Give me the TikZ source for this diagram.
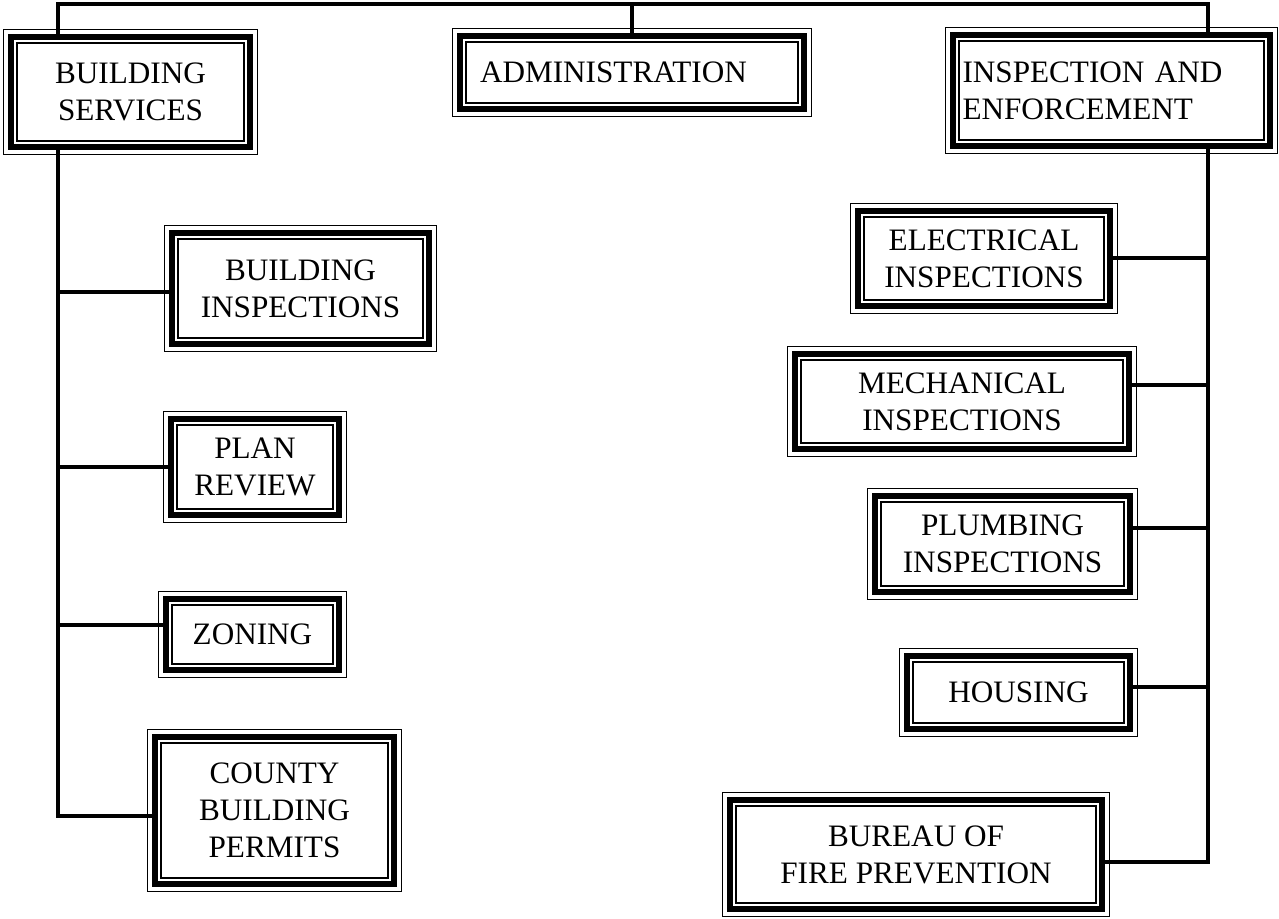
\documentclass[tikz,border=0pt]{standalone}
\usepackage{fontspec}
\setmainfont{Liberation Serif}
\tikzset{
  tribox/.style={draw, fill=white, line width=2.8pt, align=center, inner sep=2pt,
    preaction={draw=black, line width=8.2pt},
    preaction={draw=white, line width=6.6pt},
    path picture={\draw[line width=0.8pt]
      ([shift={(2.9pt,2.9pt)}]path picture bounding box.south west) rectangle
      ([shift={(-2.9pt,-2.9pt)}]path picture bounding box.north east);}},
  boxsize/.style 2 args={minimum width=#1*0.5pt-8pt, minimum height=#2*0.5pt-8pt},
  link/.style={line width=1.8pt}
}

\begin{document}
\begin{tikzpicture}[x=0.5pt,y=-0.5pt,font=\fontsize{15.6}{18.5}\selectfont]
  \useasboundingbox (0,0) rectangle (1279,918);
  % top row
  \node[tribox, boxsize={255}{126}] (bserv) at (130.5,92) {BUILDING\\SERVICES};
  \node[tribox, boxsize={360}{89}, align=left, text width=152pt, inner xsep=10pt] (admin) at (632,72.5) {ADMINISTRATION};
  \node[tribox, boxsize={333}{127}, align=left, text width=149pt, inner xsep=4.5pt] (insp) at (1111.5,90.5) {INSPECTION AND\\ENFORCEMENT};
  % building services side
  \node[tribox, boxsize={273}{127}] (binsp) at (300.5,288.5) {BUILDING\\INSPECTIONS};
  \node[tribox, boxsize={184}{112}] (plan) at (255,467) {PLAN\\REVIEW};
  \node[tribox, boxsize={189}{87}] (zone) at (252.5,634.5) {ZONING};
  \node[tribox, boxsize={255}{163}] (county) at (274.5,810.5) {COUNTY\\BUILDING\\PERMITS};
  % inspection side
  \node[tribox, boxsize={268}{111}] (elec) at (984,258.5) {ELECTRICAL\\INSPECTIONS};
  \node[tribox, boxsize={350}{111}] (mech) at (962,401.5) {MECHANICAL\\INSPECTIONS};
  \node[tribox, boxsize={271}{112}] (plumb) at (1002.5,544) {PLUMBING\\INSPECTIONS};
  \node[tribox, boxsize={239}{89}] (house) at (1018.5,692.5) {HOUSING};
  \node[tribox, boxsize={388}{125}] (fire) at (916,854.5) {BUREAU OF\\FIRE PREVENTION};

  % trunk points
  \coordinate (topL) at (58,4);
  \coordinate (topR) at (1208,4);
  \coordinate (lBI) at (58,292);
  \coordinate (lPR) at (58,467);
  \coordinate (lZ) at (58,625);
  \coordinate (lC) at (58,816);
  \coordinate (rE) at (1208,258);
  \coordinate (rM) at (1208,385);
  \coordinate (rP) at (1208,528);
  \coordinate (rH) at (1208,687);
  \coordinate (rB) at (1208,862);

  \draw[link] (bserv.north -| topL) -- (topL) -- (topR) -- (topR |- insp.north);
  \draw[link] (admin.north) -- (admin.north |- topL);

  \draw[link] (bserv.south -| topL) -- (lC) -- (lC -| county.west);
  \draw[link] (lBI) -- (lBI -| binsp.west);
  \draw[link] (lPR) -- (lPR -| plan.west);
  \draw[link] (lZ) -- (lZ -| zone.west);

  \draw[link] (insp.south -| topR) -- (rB) -- (rB -| fire.east);
  \draw[link] (rE) -- (rE -| elec.east);
  \draw[link] (rM) -- (rM -| mech.east);
  \draw[link] (rP) -- (rP -| plumb.east);
  \draw[link] (rH) -- (rH -| house.east);
\end{tikzpicture}
\end{document}
